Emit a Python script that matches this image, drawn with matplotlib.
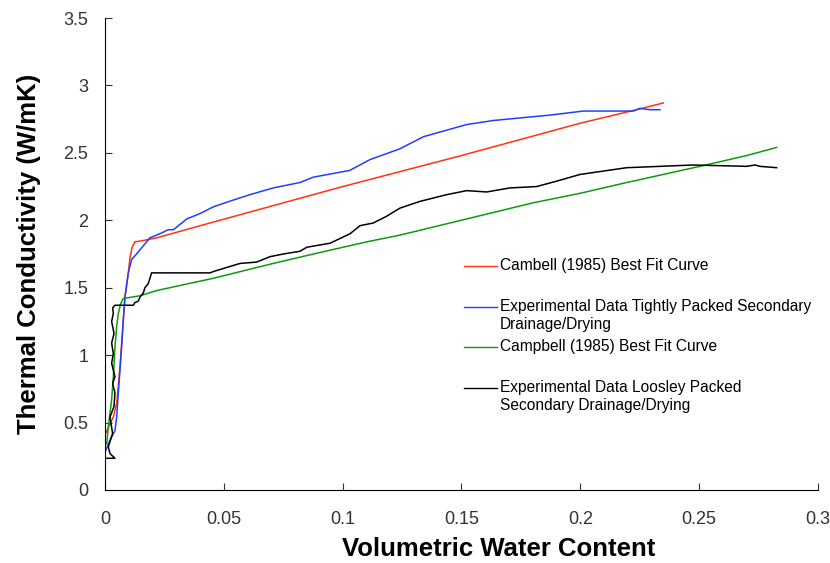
import matplotlib
matplotlib.use("Agg")
import matplotlib.pyplot as plt

plt.rcParams['font.family'] = ['Liberation Sans', 'DejaVu Sans']

# Campbell fit, tightly packed (red)
red_x = [0, 0.0021, 0.0035, 0.0049, 0.0056, 0.0063, 0.007, 0.0077, 0.0084, 0.0098,
         0.0105, 0.0114, 0.0126, 0.0161, 0.0218, 0.0442, 0.1, 0.15, 0.2, 0.2237, 0.2349]
red_y = [0.41, 0.49, 0.54, 0.64, 0.77, 0.91, 1.09, 1.26, 1.43, 1.61,
         1.72, 1.80, 1.84, 1.85, 1.87, 1.98, 2.25, 2.48, 2.72, 2.82, 2.87]

# experimental, tightly packed (blue)
blue_x = [0, 0.0021, 0.0042, 0.0049, 0.0056, 0.0063, 0.007, 0.0077, 0.0084, 0.0098,
          0.0112, 0.0133, 0.0189, 0.0231, 0.0266, 0.0288, 0.0302, 0.0344, 0.04, 0.0456,
          0.054, 0.061, 0.0708, 0.082, 0.0877, 0.103, 0.1115, 0.1241, 0.134, 0.1522,
          0.1634, 0.1872, 0.2013, 0.2223, 0.2251, 0.2293, 0.2335]
blue_y = [0.28, 0.37, 0.44, 0.54, 0.72, 0.89, 1.06, 1.26, 1.43, 1.61,
          1.71, 1.75, 1.87, 1.90, 1.93, 1.93, 1.95, 2.01, 2.05, 2.10,
          2.15, 2.19, 2.24, 2.28, 2.32, 2.37, 2.45, 2.53, 2.62, 2.71,
          2.74, 2.78, 2.81, 2.81, 2.83, 2.82, 2.82]

# Campbell fit, loosely packed (green)
green_x = [0, 0.0007, 0.0014, 0.0028, 0.0035, 0.0042, 0.0049, 0.0056, 0.0066, 0.0077,
           0.0147, 0.022, 0.0456, 0.0708, 0.0877, 0.1101, 0.1241, 0.1522, 0.1802, 0.1999,
           0.2195, 0.2503, 0.27, 0.2826]
green_y = [0.36, 0.34, 0.47, 0.67, 0.84, 1.06, 1.21, 1.31, 1.38, 1.42,
           1.44, 1.48, 1.57, 1.68, 1.75, 1.84, 1.89, 2.01, 2.13, 2.20,
           2.28, 2.40, 2.48, 2.54]

# experimental, loosely packed (black)
black_x = [0, 0.0042, 0.0021, 0.0014, 0.0032, 0.0021, 0.0038, 0.0042, 0.0032, 0.0042,
           0.0028, 0.0035, 0.0028, 0.0038, 0.0028, 0.0035, 0.0032, 0.0042, 0.0119, 0.0126,
           0.014, 0.0147, 0.0161, 0.0168, 0.0182, 0.0189, 0.0196, 0.0201, 0.0442, 0.0456,
           0.0568, 0.0638, 0.0694, 0.075, 0.082, 0.0849, 0.0947, 0.1031, 0.1073, 0.1129,
           0.1185, 0.1241, 0.1325, 0.1438, 0.1522, 0.1606, 0.1704, 0.1816, 0.19, 0.1999,
           0.2195, 0.2335, 0.2475, 0.27, 0.2735, 0.2756, 0.2826]
black_y = [0.235, 0.235, 0.27, 0.32, 0.42, 0.54, 0.62, 0.72, 0.79, 0.84,
           0.94, 1.01, 1.09, 1.16, 1.25, 1.31, 1.35, 1.37, 1.37, 1.39,
           1.40, 1.43, 1.46, 1.50, 1.53, 1.57, 1.61, 1.61, 1.61, 1.62,
           1.68, 1.69, 1.73, 1.75, 1.77, 1.80, 1.83, 1.90, 1.96, 1.98,
           2.03, 2.09, 2.14, 2.19, 2.22, 2.21, 2.24, 2.25, 2.29, 2.34,
           2.39, 2.40, 2.41, 2.40, 2.41, 2.40, 2.39]

labels = ["Cambell (1985) Best Fit Curve",
          "Experimental Data Tightly Packed Secondary\nDrainage/Drying",
          "Campbell (1985) Best Fit Curve",
          "Experimental Data Loosley Packed\nSecondary Drainage/Drying"]
colors = ['#ff3311', '#1f3fff', '#119911', '#000000']

x_ticks = [0, 0.05, 0.1, 0.15, 0.2, 0.25, 0.3]
x_tick_labels = ['0', '0.05', '0.1', '0.15', '0.2', '0.25', '0.3']
y_ticks = [0, 0.5, 1, 1.5, 2, 2.5, 3, 3.5]
y_tick_labels = ['0', '0.5', '1', '1.5', '2', '2.5', '3', '3.5']

fig = plt.figure(figsize=(8.3, 5.63), dpi=100)
ax = fig.add_axes([0.1265, 0.1297, 0.859, 0.8383])

series = [(red_x, red_y), (blue_x, blue_y), (green_x, green_y), (black_x, black_y)]
for (xs, ys), c in zip(series, colors):
    ax.plot(xs, ys, color=c, lw=1.1)

ax.set_xlim(0, 0.3)
ax.set_ylim(0, 3.5)
ax.set_xticks(x_ticks)
ax.set_xticklabels(x_tick_labels)
ax.set_yticks(y_ticks)
ax.set_yticklabels(y_tick_labels)
ax.spines['top'].set_visible(False)
ax.spines['right'].set_visible(False)
ax.tick_params(direction='in', length=5, width=0.8, labelsize=13, colors='#333333')
ax.tick_params(axis='x', pad=15)
ax.tick_params(axis='y', pad=12)

ax.set_xlabel("Volumetric Water Content", fontsize=18.5, fontweight='bold')
ax.set_ylabel("Thermal Conductivity (W/mK)", fontsize=18.5, fontweight='bold')
ax.xaxis.set_label_coords(0.552, -0.1)
ax.yaxis.set_label_coords(-0.09, 0.5)

# hand-made legend: key line aligned with the first text line
key_y = [0.4746, 0.3877, 0.3030, 0.2161]
for lab, c, ky in zip(labels, colors, key_y):
    ax.plot([0.5035, 0.5498], [ky, ky], color=c, lw=1.0, transform=ax.transAxes)
    for i, line in enumerate(lab.split("\n")):
        ax.text(0.554, ky - i * 0.0375, line, transform=ax.transAxes,
                fontsize=11.2, va='center', ha='left')

fig.savefig("out.png", dpi=100)
